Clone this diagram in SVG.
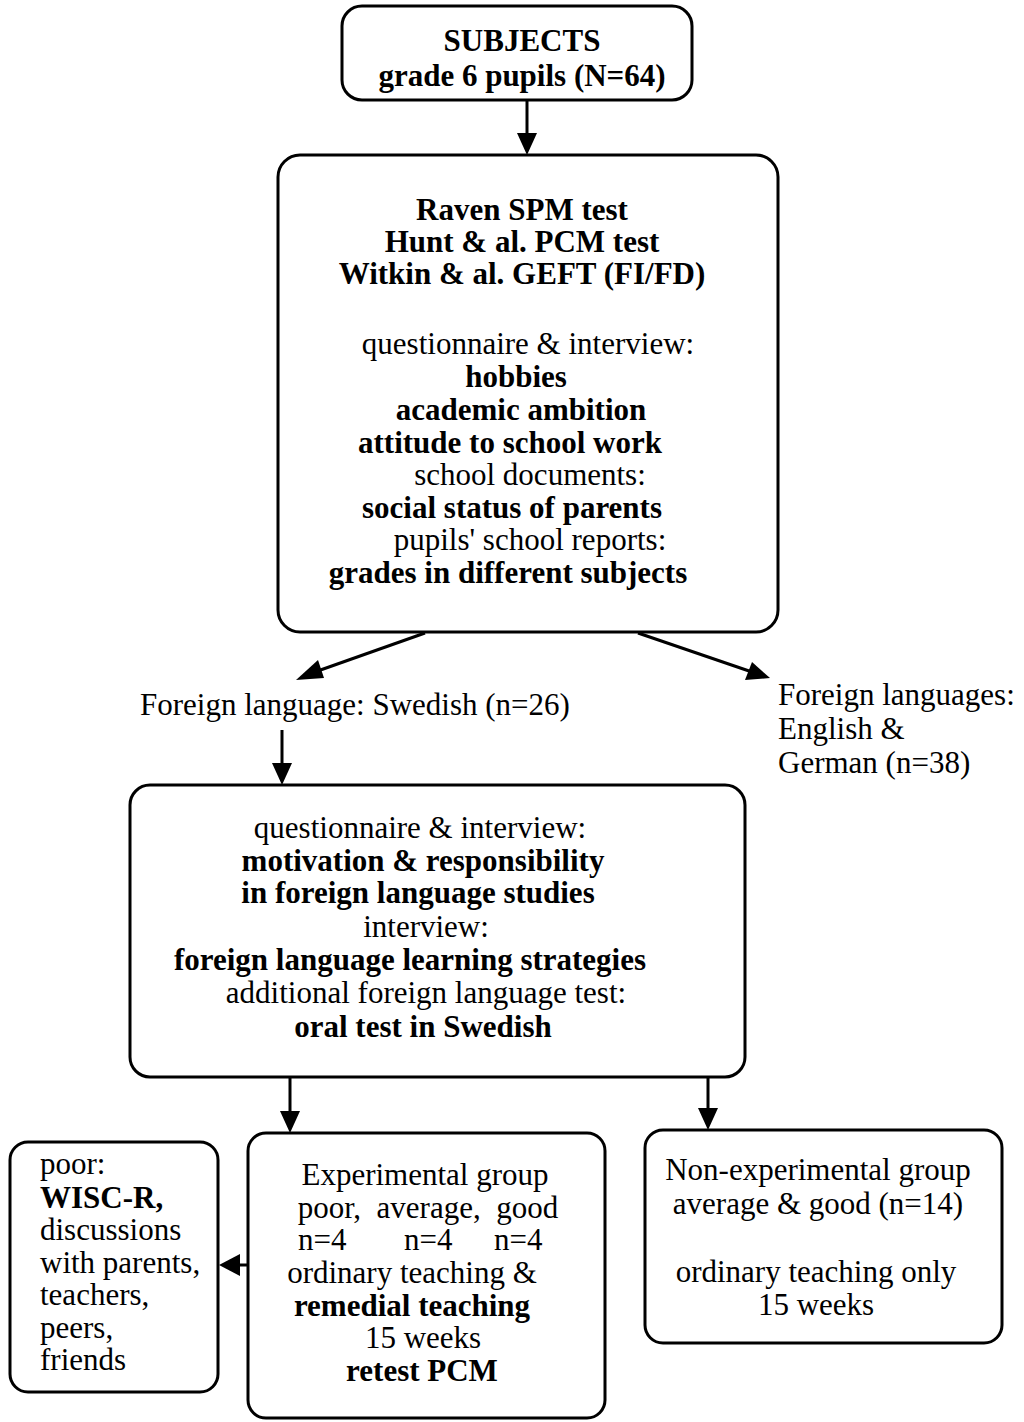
<svg xmlns="http://www.w3.org/2000/svg" width="1024" height="1422" viewBox="0 0 1024 1422">
<style>
.box{fill:#fff;stroke:#000;stroke-width:3}
text{font-family:"Liberation Serif","Times New Roman",serif;font-size:31px;fill:#000}
.c{text-anchor:middle}
.b{font-weight:bold}
.ln{stroke:#000;stroke-width:3;fill:none}
</style>
<rect width="1024" height="1422" fill="#fff"/>
<g id="connectors">
<line class="ln" x1="527" y1="100" x2="527" y2="138"/>
<polygon points="517,133 537,133 527,155" fill="#000"/>
<line class="ln" x1="425" y1="633" x2="312" y2="673"/>
<polygon points="296,680 318,660 324,678" fill="#000"/>
<line class="ln" x1="638" y1="633" x2="752" y2="672"/>
<polygon points="770,678 745,680 752,662" fill="#000"/>
<line class="ln" x1="282" y1="730" x2="282" y2="768"/>
<polygon points="272,763 292,763 282,785" fill="#000"/>
<line class="ln" x1="290" y1="1077" x2="290" y2="1116"/>
<polygon points="280,1111 300,1111 290,1133" fill="#000"/>
<line class="ln" x1="708" y1="1077" x2="708" y2="1113"/>
<polygon points="698,1108 718,1108 708,1130" fill="#000"/>
<line class="ln" x1="248" y1="1265" x2="235" y2="1265"/>
<polygon points="240,1254 240,1276 219,1265" fill="#000"/>
</g>
<g id="subjects">
<rect class="box" x="342" y="6" width="350" height="94" rx="20"/>
<text class="c b" x="522" y="51">SUBJECTS</text>
<text class="c b" x="522" y="86">grade 6 pupils (N=64)</text>
</g>
<g id="tests">
<rect class="box" x="278" y="155" width="500" height="477" rx="22"/>
<text class="c b" x="522" y="220">Raven SPM test</text>
<text class="c b" x="522" y="252">Hunt &amp; al. PCM test</text>
<text class="c b" x="522" y="284">Witkin &amp; al. GEFT (FI/FD)</text>
<text class="c" x="528" y="354">questionnaire &amp; interview:</text>
<text class="c b" x="516" y="387">hobbies</text>
<text class="c b" x="521" y="420">academic ambition</text>
<text class="c b" x="510" y="453">attitude to school work</text>
<text class="c" x="530" y="485">school documents:</text>
<text class="c b" x="512" y="518">social status of parents</text>
<text class="c" x="530" y="550">pupils' school reports:</text>
<text class="c b" x="508" y="583">grades in different subjects</text>
</g>
<g id="swedish">
<text x="140" y="715">Foreign language: Swedish (n=26)</text>
</g>
<g id="english-german">
<text x="778" y="705">Foreign languages:</text>
<text x="778" y="739">English &amp;</text>
<text x="778" y="773">German (n=38)</text>
</g>
<g id="motivation">
<rect class="box" x="130" y="785" width="615" height="292" rx="20"/>
<text class="c" x="420" y="838">questionnaire &amp; interview:</text>
<text class="c b" x="423" y="871">motivation &amp; responsibility</text>
<text class="c b" x="418" y="903">in foreign language studies</text>
<text class="c" x="426" y="937">interview:</text>
<text class="c b" x="410" y="970">foreign language learning strategies</text>
<text class="c" x="426" y="1003">additional foreign language test:</text>
<text class="c b" x="423" y="1037">oral test in Swedish</text>
</g>
<g id="poor">
<rect class="box" x="10" y="1142" width="208" height="250" rx="18"/>
<text x="40" y="1174">poor:</text>
<text class="b" x="40" y="1208">WISC-R,</text>
<text x="40" y="1240">discussions</text>
<text x="40" y="1273">with parents,</text>
<text x="40" y="1305">teachers,</text>
<text x="40" y="1338">peers,</text>
<text x="40" y="1370">friends</text>
</g>
<g id="experimental">
<rect class="box" x="248" y="1133" width="357" height="285" rx="18"/>
<text class="c" x="425" y="1185">Experimental group</text>
<text class="c" x="428" y="1218" xml:space="preserve">poor,  average,  good</text>
<text x="298" y="1250">n=4</text>
<text x="404" y="1250">n=4</text>
<text x="494" y="1250">n=4</text>
<text class="c" x="412" y="1283">ordinary teaching &amp;</text>
<text class="c b" x="412" y="1316">remedial teaching</text>
<text class="c" x="423" y="1348">15 weeks</text>
<text class="c b" x="422" y="1381">retest PCM</text>
</g>
<g id="nonexperimental">
<rect class="box" x="645" y="1130" width="357" height="213" rx="18"/>
<text class="c" x="818" y="1180">Non-experimental group</text>
<text class="c" x="818" y="1214">average &amp; good (n=14)</text>
<text class="c" x="816" y="1282">ordinary teaching only</text>
<text class="c" x="816" y="1315">15 weeks</text>
</g>
</svg>
